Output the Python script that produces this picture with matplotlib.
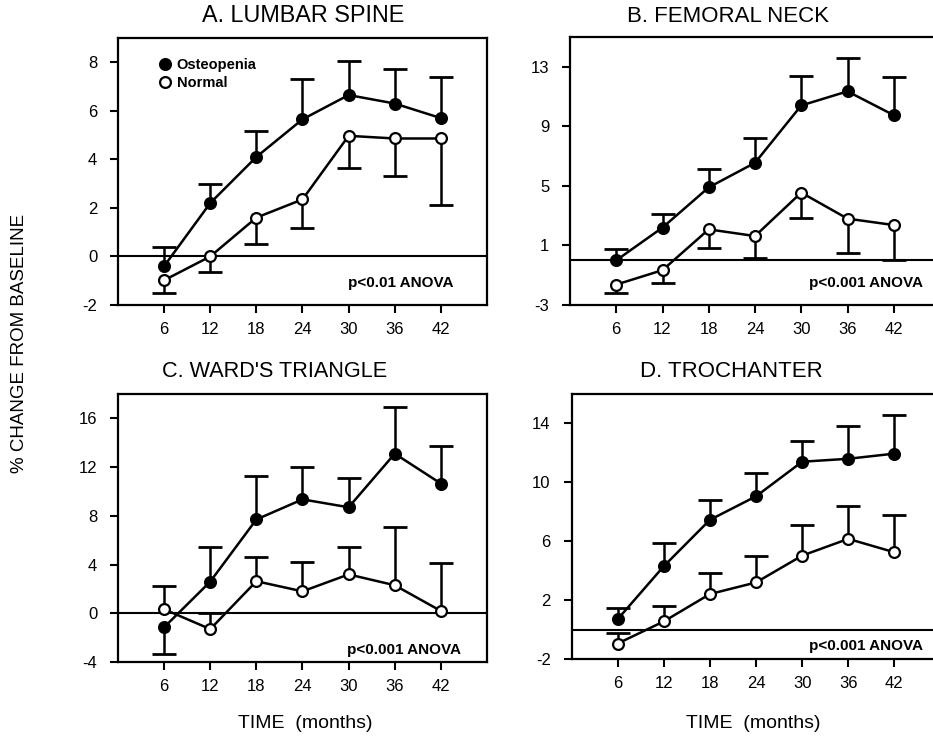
import matplotlib
matplotlib.use("Agg")
import matplotlib.pyplot as plt
from matplotlib.lines import Line2D

plt.rcParams['font.family'] = ['Liberation Sans', 'DejaVu Sans']
plt.rcParams['axes.unicode_minus'] = False

months = [6, 12, 18, 24, 30, 36, 42]

# A. Lumbar spine
a_ost_mean = [-0.4, 2.2, 4.1, 5.65, 6.65, 6.3, 5.7]
a_ost_se = [0.78, 0.8, 1.06, 1.65, 1.39, 1.43, 1.69]
a_ost_dir = [1, 1, 1, 1, 1, 1, 1]
a_norm_mean = [-0.98, 0.0, 1.6, 2.35, 4.97, 4.86, 4.86]
a_norm_se = [0.54, 0.65, 1.1, 1.19, 1.34, 1.55, 2.74]
a_norm_dir = [-1, -1, -1, -1, -1, -1, -1]

# B. Femoral neck
b_ost_mean = [0.0, 2.2, 4.9, 6.55, 10.4, 11.35, 9.75]
b_ost_se = [0.73, 0.93, 1.21, 1.65, 1.95, 2.21, 2.53]
b_ost_dir = [1, 1, 1, 1, 1, 1, 1]
b_norm_mean = [-1.63, -0.66, 2.08, 1.63, 4.55, 2.8, 2.37]
b_norm_se = [0.55, 0.85, 1.24, 1.46, 1.69, 2.34, 2.37]
b_norm_dir = [-1, -1, -1, -1, -1, -1, -1]

# C. Ward's triangle
c_ost_mean = [-1.15, 2.6, 7.7, 9.35, 8.7, 13.1, 10.65]
c_ost_se = [2.17, 2.88, 3.57, 2.64, 2.38, 3.8, 3.12]
c_ost_dir = [-1, 1, 1, 1, 1, 1, 1]
c_norm_mean = [0.33, -1.3, 2.63, 1.8, 3.19, 2.3, 0.19]
c_norm_se = [1.87, 1.3, 2.0, 2.44, 2.21, 4.76, 3.96]
c_norm_dir = [1, 1, 1, 1, 1, 1, 1]

# D. Trochanter
d_ost_mean = [0.7, 4.3, 7.45, 9.05, 11.4, 11.6, 11.95]
d_ost_se = [0.75, 1.56, 1.32, 1.59, 1.4, 2.24, 2.6]
d_ost_dir = [1, 1, 1, 1, 1, 1, 1]
d_norm_mean = [-0.95, 0.55, 2.41, 3.2, 5.02, 6.16, 5.25]
d_norm_se = [0.73, 1.06, 1.43, 1.82, 2.09, 2.25, 2.5]
d_norm_dir = [1, 1, 1, 1, 1, 1, 1]

titles = ["A. LUMBAR SPINE", "B. FEMORAL NECK", "C. WARD'S TRIANGLE", "D. TROCHANTER"]
pvals = ["p<0.01 ANOVA", "p<0.001 ANOVA", "p<0.001 ANOVA", "p<0.001 ANOVA"]
yticks = [[-2, 0, 2, 4, 6, 8], [-3, 1, 5, 9, 13], [-4, 0, 4, 8, 12, 16], [-2, 2, 6, 10, 14]]
ylims = [(-2, 9), (-3, 15), (-4, 18), (-2, 16)]
legend_labels = ["Osteopenia", "Normal"]

panels = [
    (a_ost_mean, a_ost_se, a_ost_dir, a_norm_mean, a_norm_se, a_norm_dir),
    (b_ost_mean, b_ost_se, b_ost_dir, b_norm_mean, b_norm_se, b_norm_dir),
    (c_ost_mean, c_ost_se, c_ost_dir, c_norm_mean, c_norm_se, c_norm_dir),
    (d_ost_mean, d_ost_se, d_ost_dir, d_norm_mean, d_norm_se, d_norm_dir),
]

W, H = 933, 749
fig = plt.figure(figsize=(W / 100, H / 100), dpi=100)

# axes boxes in pixels: left, top, right, bottom
boxes = [(118, 38, 487, 305), (570, 37, 940, 305), (118, 394, 487, 662), (571.5, 394, 940.5, 659)]
title_pos = [(303, 16), (728, 16), (275, 372), (731, 372)]
title_sizes = [16.8, 16, 15.6, 16]
ptext_pos = [(0.91, 0.082), (0.954, 0.081), (0.93, 0.044), (0.952, 0.049)]

LW = 1.8
for i, (box, data) in enumerate(zip(boxes, panels)):
    l, t, r, b = box
    ax = fig.add_axes([l / W, (H - b) / H, (r - l) / W, (b - t) / H])
    om, ose, odir, nm, nse, ndir = data
    ax.axhline(0, color='black', lw=1.5, zorder=1)
    for mean, se, d, face in ((om, ose, odir, 'black'), (nm, nse, ndir, 'white')):
        ends = [m + s * dd for m, s, dd in zip(mean, se, d)]
        ax.vlines(months, mean, ends, color='black', lw=LW, zorder=2)
        ax.plot(months, ends, ls='none', marker='_', ms=17, mew=2.0, color='black', zorder=2)
        ax.plot(months, mean, '-', color='black', lw=LW, marker='o', ms=7.8,
                mfc=face, mec='black', mew=1.6, zorder=3)
    ax.set_xlim(0, 48)
    ax.set_ylim(*ylims[i])
    ax.set_xticks(months)
    ax.set_yticks(yticks[i])
    ax.tick_params(direction='out', length=6, width=1.5, labelsize=12, colors='black')
    ax.tick_params(axis='y', pad=9)
    ax.tick_params(axis='x', pad=6)
    for s in ax.spines.values():
        s.set_linewidth(1.6)
    ax.text(ptext_pos[i][0], ptext_pos[i][1], pvals[i], transform=ax.transAxes,
            ha='right', va='center', fontsize=11, fontweight='bold')
    fig.text(title_pos[i][0] / W, 1 - title_pos[i][1] / H, titles[i],
             ha='center', va='center', fontsize=title_sizes[i])
    if i == 0:
        handles = [Line2D([], [], ls='none', marker='o', ms=7.8, mfc='black', mec='black', mew=1.6),
                   Line2D([], [], ls='none', marker='o', ms=7.8, mfc='white', mec='black', mew=1.6)]
        leg = ax.legend(handles, legend_labels, loc='upper left', bbox_to_anchor=(0.112, 0.925),
                        frameon=False, handlelength=0.8, handletextpad=0.4, borderpad=0,
                        borderaxespad=0, labelspacing=0.25,
                        prop={'size': 10.5, 'weight': 'bold'})

fig.text(20 / W, 1 - 343 / H, "% CHANGE FROM BASELINE", rotation=90,
         ha='center', va='center', fontsize=13.5)
fig.text(305 / W, 1 - 723 / H, "TIME  (months)", ha='center', va='center', fontsize=14)
fig.text(753 / W, 1 - 723 / H, "TIME  (months)", ha='center', va='center', fontsize=14)

fig.savefig("out.png", dpi=100)
